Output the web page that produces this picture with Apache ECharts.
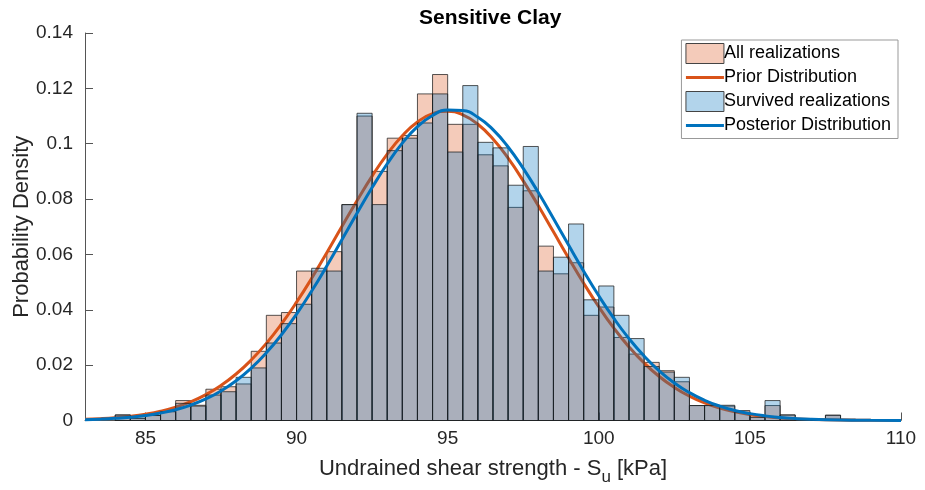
<!DOCTYPE html>
<html><head><meta charset="utf-8">
<script src="https://cdn.jsdelivr.net/npm/echarts@6/dist/echarts.min.js"></script>
<style>html,body{margin:0;padding:0;background:#fff}#c{width:925px;height:490px}</style>
</head><body><div id="c"></div>
<script>
// Histogram bins (left edges, width 0.5 kPa)
var binLeft = [84.0,84.5,85.0,85.5,86.0,86.5,87.0,87.5,88.0,88.5,89.0,89.5,90.0,90.5,91.0,91.5,92.0,92.5,93.0,93.5,94.0,94.5,95.0,95.5,96.0,96.5,97.0,97.5,98.0,98.5,99.0,99.5,100.0,100.5,101.0,101.5,102.0,102.5,103.0,103.5,104.0,104.5,105.0,105.5,106.0,106.5,107.0,107.5,108.0];
var binWidth = 0.5;
var allReal = [0.0020,0.0007,0.0018,0.0032,0.0072,0.0055,0.0113,0.0122,0.0132,0.0250,0.0380,0.0390,0.0540,0.0540,0.0610,0.0780,0.1100,0.0900,0.1020,0.1030,0.1180,0.1250,0.1070,0.1070,0.0960,0.0920,0.0770,0.0830,0.0630,0.0530,0.0570,0.0380,0.0410,0.0300,0.0240,0.0210,0.0180,0.0140,0.0054,0.0054,0.0052,0.0036,0.0017,0.0054,0.0020,0.0004,0.0005,0.0019,0.0005];
var survReal = [0.0020,0.0009,0.0018,0.0032,0.0062,0.0052,0.0092,0.0104,0.0156,0.0190,0.0280,0.0350,0.0420,0.0550,0.0540,0.0780,0.1110,0.0780,0.0975,0.1020,0.1075,0.1180,0.0970,0.1210,0.1005,0.0985,0.0850,0.0990,0.0540,0.0590,0.0710,0.0436,0.0486,0.0380,0.0296,0.0195,0.0175,0.0156,0.0054,0.0054,0.0055,0.0030,0.0011,0.0072,0.0020,0.0004,0.0000,0.0019,0.0000];
// Fitted density curves
var curveX = [83,83.5,84,84.5,85,85.5,86,86.5,87,87.5,88,88.5,89,89.5,90,90.5,91,91.5,92,92.5,93,93.5,94,94.5,95,95.5,96,96.5,97,97.5,98,98.5,99,99.5,100,100.5,101,101.5,102,102.5,103,103.5,104,104.5,105,105.5,106,106.5,107,108,109,110];
var priorY = [0.00041,0.00065,0.00101,0.00154,0.0023,0.00336,0.00483,0.00679,0.00937,0.01267,0.0168,0.02185,0.02787,0.03486,0.04274,0.05138,0.0606,0.07006,0.07943,0.0883,0.09626,0.1029,0.10786,0.11087,0.11174,0.11043,0.10702,0.1017,0.09476,0.08658,0.07759,0.06816,0.05872,0.0496,0.04109,0.03337,0.02658,0.02076,0.0159,0.01195,0.0088,0.00635,0.00449,0.00312,0.00212,0.00142,0.00093,0.0006,0.00038,0.00014,0.00005,0.00002];
var postY = [0.00031,0.00049,0.00078,0.0012,0.00181,0.00269,0.00391,0.00558,0.0078,0.01069,0.01436,0.01893,0.02445,0.03097,0.03843,0.04678,0.05581,0.06529,0.07486,0.08415,0.09275,0.1002,0.10614,0.11021,0.1122,0.11198,0.10956,0.10509,0.09883,0.09111,0.08234,0.07296,0.06337,0.05396,0.04505,0.03687,0.02958,0.02327,0.01795,0.01357,0.01006,0.0073,0.0052,0.00363,0.00249,0.00167,0.0011,0.00071,0.00045,0.00017,0.00006,0.00002];
var xTicks = [85,90,95,100,105,110];

function histData(vals){ return binLeft.map(function(l,i){ return [l, l+binWidth, vals[i]]; }); }
function pairs(xs, ys){ return xs.map(function(x,i){ return [x, ys[i]]; }); }
function rectRender(fill){
  return function(params, api){
    var p0 = api.coord([api.value(0), api.value(2)]);
    var p1 = api.coord([api.value(1), 0]);
    return {type:'rect', shape:{x:p0[0], y:p0[1], width:p1[0]-p0[0], height:p1[1]-p0[1]},
      style:{fill:fill, stroke:'rgba(30,30,30,0.75)', lineWidth:1}};
  };
}
var FONT = 'Liberation Sans, Arial, Helvetica, sans-serif';
var LINE_ICON = 'path://M0,0 L40,0 L40,3 L0,3 Z';
var chart = echarts.init(document.getElementById('c'), null, {renderer:'canvas'});
chart.setOption({
  animation:false,
  backgroundColor:'#fff',
  textStyle:{fontFamily:FONT},
  title:{text:'Sensitive Clay', left:414, top:3, textStyle:{fontFamily:FONT, fontSize:21, fontWeight:'bold', color:'#000'}},
  grid:{left:85, right:24, top:33, bottom:69.5, containLabel:false, outerBoundsMode:'none'},
  legend:{
    orient:'vertical', right:27, top:40, itemWidth:38, itemHeight:20, itemGap:4.5,
    backgroundColor:'#fff', borderColor:'#999', borderWidth:1, padding:[3,7,4,4],
    textStyle:{fontFamily:FONT, fontSize:18, color:'#000', padding:[0,0,0,-5]},
    data:[
      {name:'All realizations', icon:'rect', itemStyle:{color:'rgba(217,83,25,0.3)', borderColor:'#444', borderWidth:1}},
      {name:'Prior Distribution', icon:LINE_ICON, itemStyle:{color:'#D95319', borderWidth:0}},
      {name:'Survived realizations', icon:'rect', itemStyle:{color:'rgba(0,114,189,0.3)', borderColor:'#444', borderWidth:1}},
      {name:'Posterior Distribution', icon:LINE_ICON, itemStyle:{color:'#0072BD', borderWidth:0}}
    ]
  },
  xAxis:{
    type:'value', min:83, max:110,
    name:'Undrained shear strength - S{sub|u} [kPa]', nameLocation:'middle', nameGap:32,
    nameTextStyle:{fontFamily:FONT, fontSize:22, color:'#262626', rich:{sub:{fontFamily:FONT, fontSize:17, color:'#262626', padding:[16,0,0,0]}}},
    axisLine:{show:true, lineStyle:{color:'#555', width:1}},
    axisTick:{show:true, inside:true, length:8, customValues:xTicks, lineStyle:{color:'#555'}},
    axisLabel:{customValues:xTicks, fontFamily:FONT, fontSize:19, color:'#262626', margin:9},
    splitLine:{show:false}
  },
  yAxis:{
    type:'value', min:0, max:0.14, interval:0.02,
    name:'Probability Density', nameLocation:'middle', nameGap:52, nameMoveOverlap:false,
    nameTextStyle:{fontFamily:FONT, fontSize:22, color:'#262626'},
    axisLine:{show:true, lineStyle:{color:'#555', width:1}},
    axisTick:{show:true, inside:true, length:8, lineStyle:{color:'#555'}},
    axisLabel:{fontFamily:FONT, fontSize:19, color:'#262626', margin:12},
    splitLine:{show:false}
  },
  series:[
    {name:'All realizations', type:'custom', renderItem:rectRender('rgba(217,83,25,0.3)'),
      encode:{x:[0,1], y:2}, data:histData(allReal), itemStyle:{color:'rgba(217,83,25,0.3)'}, z:1},
    {name:'Prior Distribution', type:'line', data:pairs(curveX, priorY), smooth:true, symbol:'none',
      lineStyle:{color:'#D95319', width:3}, itemStyle:{color:'#D95319'}, z:2},
    {name:'Survived realizations', type:'custom', renderItem:rectRender('rgba(0,114,189,0.3)'),
      encode:{x:[0,1], y:2}, data:histData(survReal), itemStyle:{color:'rgba(0,114,189,0.3)'}, z:3},
    {name:'Posterior Distribution', type:'line', data:pairs(curveX, postY), smooth:true, symbol:'none',
      lineStyle:{color:'#0072BD', width:3}, itemStyle:{color:'#0072BD'}, z:4}
  ]
});
</script></body></html>
